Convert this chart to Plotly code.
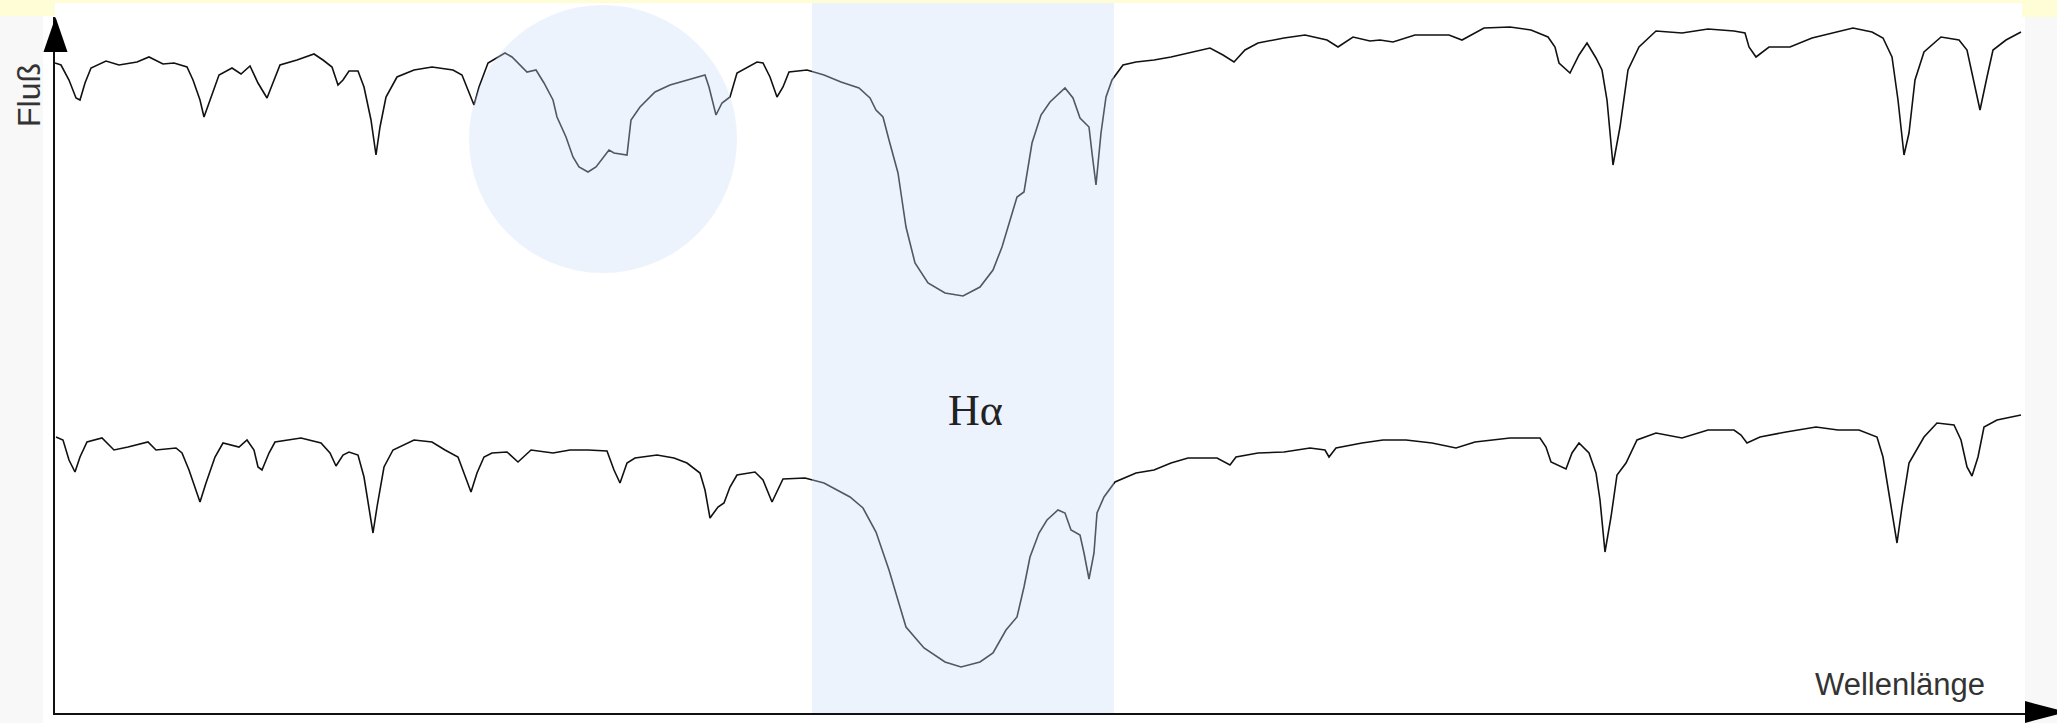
import plotly.graph_objects as go

# Spectrum with the extra broad feature (upper) – wavelength (arb.) and flux (arb.)
wl_top = [55, 61, 69, 76, 80, 85, 91, 106, 119, 137, 149, 163, 174, 187, 193, 200, 204, 210, 219, 232,
          241, 250, 258, 267, 273, 280, 297, 314, 323, 332, 338, 343, 349, 358, 364, 371, 376, 380, 386, 397,
          414, 432, 453, 462, 468, 474, 479, 488, 505, 512, 527, 536, 544, 553, 557, 566, 573, 579, 588, 596,
          609, 614, 627, 631, 640, 655, 670, 687, 705, 709, 716, 722, 730, 737, 757, 763, 770, 777, 783, 789,
          807, 824, 841, 859, 870, 876, 883, 889, 898, 902, 906, 915, 928, 945, 963, 980, 993, 1002, 1011, 1017,
          1024, 1028, 1032, 1041, 1050, 1065, 1073, 1080, 1084, 1089, 1092, 1096, 1101, 1106, 1112, 1123, 1136,
          1154, 1171, 1188, 1210, 1223, 1234, 1245, 1258, 1284, 1305, 1327, 1338, 1353, 1370, 1380, 1393, 1415,
          1449, 1462, 1484, 1510, 1531, 1548, 1555, 1559, 1570, 1579, 1587, 1596, 1602, 1607, 1613, 1620, 1628,
          1639, 1656, 1682, 1708, 1734, 1745, 1749, 1756, 1769, 1790, 1812, 1833, 1853, 1872, 1883, 1892, 1898,
          1904, 1909, 1915, 1924, 1941, 1959, 1967, 1974, 1980, 1987, 1993, 2006, 2021]
flux_top = [650, 648, 633, 615, 613, 630, 645, 652, 648, 651, 656, 649, 650, 646, 633, 613, 596, 613, 638, 645,
            639, 647, 630, 615, 630, 648, 653, 659, 653, 646, 628, 633, 642, 642, 626, 593, 558, 586, 616, 636,
            643, 646, 643, 638, 623, 608, 626, 650, 660, 656, 641, 643, 630, 613, 596, 576, 556, 546, 541, 546,
            563, 560, 558, 593, 606, 621, 628, 633, 638, 626, 598, 610, 616, 640, 651, 650, 636, 616, 626, 641,
            643, 638, 631, 625, 615, 603, 596, 573, 540, 513, 486, 450, 430, 420, 417, 426, 443, 466, 496, 516,
            521, 546, 570, 598, 611, 625, 615, 595, 591, 586, 560, 528, 580, 616, 633, 648, 651,
            653, 656, 660, 665, 658, 651, 663, 670, 675, 678, 673, 666, 676, 672, 673, 671, 678,
            678, 673, 685, 686, 683, 676, 666, 650, 640, 658, 670, 655, 643, 613, 548, 586, 643,
            666, 682, 680, 684, 682, 680, 666, 656, 666, 666, 675, 680, 685, 681, 675, 656, 613,
            558, 580, 633, 661, 676, 673, 663, 630, 603, 636, 663, 673, 681]

# Reference spectrum (lower)
wl_bottom = [56, 63, 69, 75, 80, 87, 102, 114, 128, 148, 156, 176, 182, 189, 200, 206, 215, 223, 239, 247,
             254, 258, 262, 269, 275, 301, 321, 330, 336, 343, 349, 358, 364, 369, 373, 377, 384, 393, 414, 432,
             445, 458, 464, 471, 477, 484, 492, 507, 518, 531, 553, 570, 588, 607, 614, 620, 627, 635, 657, 674,
             687, 700, 705, 710, 718, 724, 730, 737, 755, 763, 772, 783, 805, 824, 850, 863, 876, 889, 900, 906,
             924, 945, 961, 980, 993, 1006, 1017, 1024, 1030, 1039, 1047, 1058, 1065, 1071, 1080, 1084, 1089, 1094,
             1097, 1104, 1115, 1136, 1154, 1171, 1188, 1217, 1230, 1236, 1258, 1284, 1310, 1325, 1329, 1336, 1362,
             1383, 1406, 1432, 1456, 1475, 1510, 1540, 1546, 1551, 1566, 1572, 1579, 1589, 1596, 1600, 1605, 1611,
             1617, 1626, 1637, 1656, 1682, 1708, 1734, 1741, 1747, 1760, 1786, 1816, 1838, 1859, 1877, 1883, 1890,
             1897, 1902, 1909, 1924, 1937, 1954, 1961, 1967, 1972, 1978, 1984, 1997, 2021]
flux_bottom = [276, 273, 253, 241, 256, 271, 275, 263, 266, 271, 263, 265, 260, 243, 211, 230, 256, 270, 266, 273,
               263, 246, 243, 260, 271, 275, 270, 260, 247, 258, 261, 258, 236, 206, 180, 206, 246, 263, 273, 271,
               263, 256, 240, 221, 240, 256, 260, 261, 251, 263, 260, 263, 263, 262, 243, 230, 250, 255, 258, 255,
               250, 240, 223, 195, 206, 210, 226, 238, 241, 233, 211, 234, 235, 230, 216, 205, 181, 143, 106, 86,
               65, 51, 46, 51, 60, 83, 96, 126, 156, 180, 193, 203, 200, 183, 178, 160, 134, 160,
               200, 216, 231, 240, 243, 250, 255, 255, 248, 256, 260, 261, 265, 263, 256, 265, 270,
               273, 273, 270, 265, 271, 275, 275, 266, 251, 244, 260, 270, 260, 240, 213, 161, 196,
               238, 250, 273, 280, 275, 283, 283, 278, 270, 276, 281, 286, 283, 283, 276, 256, 213,
               170, 206, 250, 276, 290, 288, 273, 246, 237, 256, 286, 293, 298]

axis_labels = {"x": "Wellenlänge", "y": "Fluß"}
line_label = "Hα"

W, H = 2057, 723
ML, MR, MT, MB = 55, 32, 17, 10


def px(x):
    return (x - ML) / (W - ML - MR)


def py(y):
    return (H - MB - y) / (H - MT - MB)


fig = go.Figure()
for wl, fl in ((wl_top, flux_top), (wl_bottom, flux_bottom)):
    fig.add_trace(go.Scatter(x=wl, y=fl, mode="lines",
                             line=dict(color="#111111", width=1.6),
                             hoverinfo="skip", showlegend=False))

shapes = []
# page background pieces
shapes.append(dict(type="rect", xref="paper", yref="paper", layer="below",
                   x0=px(43), x1=px(2025), y0=py(723), y1=py(3),
                   fillcolor="white", line=dict(width=0)))
yellow = "#fffdd6"
for (x0, x1, y1) in ((0, 2057, 3), (0, 55, 16), (2022, 2057, 17)):
    shapes.append(dict(type="rect", xref="paper", yref="paper", layer="below",
                       x0=px(x0), x1=px(x1), y0=py(y1), y1=py(0),
                       fillcolor=yellow, line=dict(width=0)))
# highlighted regions
hl = "rgba(200,222,245,0.35)"
shapes.append(dict(type="rect", xref="paper", yref="paper", layer="above",
                   x0=px(812), x1=px(1114), y0=py(713), y1=py(3),
                   fillcolor=hl, line=dict(width=0)))
shapes.append(dict(type="circle", xref="paper", yref="paper", layer="above",
                   x0=px(469), x1=px(737), y0=py(273), y1=py(5),
                   fillcolor=hl, line=dict(width=0)))
# axis arrow heads
shapes.append(dict(type="path", xref="paper", yref="paper", layer="above",
                   path=f"M {px(43.5)} {py(52)} L {px(55.5)} {py(17)} L {px(67.5)} {py(52)} Z",
                   fillcolor="black", line=dict(width=0)))
shapes.append(dict(type="path", xref="paper", yref="paper", layer="above",
                   path=f"M {px(2025)} {py(701)} L {px(2066)} {py(712)} L {px(2025)} {py(723)} Z",
                   fillcolor="black", line=dict(width=0)))

annotations = [
    dict(text=axis_labels["y"], xref="paper", yref="paper", x=px(29), y=py(95),
         textangle=-90, showarrow=False, xanchor="center", yanchor="middle",
         font=dict(family="Liberation Sans, Arial, sans-serif", size=32, color="#333333")),
    dict(text=axis_labels["x"], xref="paper", yref="paper", x=px(1900), y=py(684),
         showarrow=False, xanchor="center", yanchor="middle",
         font=dict(family="Liberation Sans, Arial, sans-serif", size=31, color="#333333")),
    dict(text=line_label, xref="paper", yref="paper", x=px(975), y=py(410),
         showarrow=False, xanchor="center", yanchor="middle",
         font=dict(family="Liberation Serif, Times New Roman, serif", size=44, color="#222222")),
]

axis_common = dict(showgrid=False, zeroline=False, showticklabels=False, ticks="",
                   showline=True, linecolor="#111111", linewidth=1.5, fixedrange=True)
fig.update_layout(
    width=W, height=H,
    margin=dict(l=ML, r=MR, t=MT, b=MB, pad=0),
    paper_bgcolor="#f8f8f8",
    plot_bgcolor="rgba(0,0,0,0)",
    xaxis=dict(range=[ML, W - MR], **axis_common),
    yaxis=dict(range=[0, H - MT - MB], **axis_common),
    shapes=shapes,
    annotations=annotations,
    showlegend=False,
)
fig.write_html("out.html")
